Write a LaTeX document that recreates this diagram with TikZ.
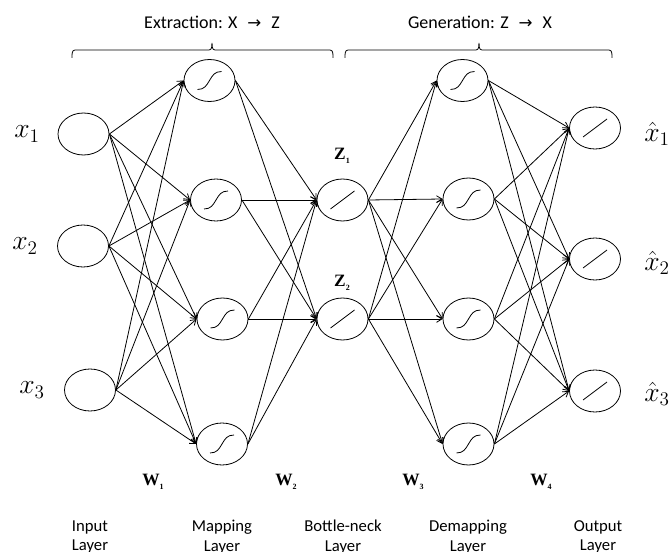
\documentclass[tikz,border=0pt]{standalone}
\usepackage{fontspec}
\setmainfont{Liberation Serif}
\newfontfamily\calib{Carlito}
\newfontfamily\dejavu{DejaVu Sans}
\usetikzlibrary{shapes.geometric,arrows.meta}
\newcommand{\myarrow}{\hspace{0.55em}{\dejavu\fontsize{12.5}{12.5}\selectfont →}\hspace{0.55em}}
\begin{document}
\begin{tikzpicture}[x=0.75pt,y=-0.75pt,
  neuron/.style={draw,ellipse,line width=0.6pt,minimum width=38.25pt,minimum height=31.5pt,inner sep=0pt},
  sig/.style={neuron,path picture={\draw[line width=0.6pt,shift={(path picture bounding box.center)}]
      (-12,9) .. controls (-5,9) and (-3,5) .. (0,0) .. controls (3,-5) and (5,-9) .. (12,-9);}},
  lin/.style={neuron,path picture={\draw[line width=0.6pt,shift={(path picture bounding box.center)}]
      (-12,9) -- (12,-9);}},
  conn/.style={line width=0.6pt,-{Straight Barb[length=4pt,width=5pt]}},
  vlab/.style={font=\fontsize{20}{20}\selectfont},
  wlab/.style={font=\fontsize{13}{13}\selectfont\bfseries},
  layerlab/.style={font=\calib\fontsize{12.5}{14.5}\selectfont,align=center},
  toplab/.style={font=\calib\fontsize{13.5}{15}\selectfont},
  bracepath/.style={line width=0.6pt}
]
\useasboundingbox (0,0) rectangle (672,552);
% input layer
\node[neuron] (I1) at (83.5,134) {};
\node[neuron] (I2) at (83,246) {};
\node[neuron] (I3) at (90,390) {};
% mapping layer
\node[sig] (M1) at (209.5,80.5) {};
\node[sig] (M2) at (216,200) {};
\node[sig] (M3) at (222.5,319) {};
\node[sig] (M4) at (222,444) {};
% bottleneck
\node[lin] (B1) at (342.5,200) {};
\node[lin] (B2) at (342.5,319) {};
% demapping
\node[sig] (D1) at (462.5,80.5) {};
\node[sig] (D2) at (468.5,199) {};
\node[sig] (D3) at (468.5,319) {};
\node[sig] (D4) at (468.5,444) {};
% output
\node[lin] (O1) at (595,128) {};
\node[lin] (O2) at (595,259) {};
\node[lin] (O3) at (595,391) {};
% connections
\foreach \i in {1,2,3}{\foreach \j in {1,2,3,4}{\draw[conn] (I\i.east) -- (M\j.west);}}
\foreach \i in {1,2,3,4}{\foreach \j in {1,2}{\draw[conn] (M\i.east) -- (B\j.west);}}
\foreach \i in {1,2}{\foreach \j in {1,2,3,4}{\draw[conn] (B\i.east) -- (D\j.west);}}
\foreach \i in {1,2,3,4}{\foreach \j in {1,2,3}{\draw[conn] (D\i.east) -- (O\j.west);}}
% variable labels
\node[vlab] (lx1) at (27,134) {$x_1$};
\node[vlab] (lx2) at (25,246) {$x_2$};
\node[vlab] (lx3) at (32,390) {$x_3$};
\node[vlab] (ly1) at (657,134) {$\hat{x}_1$};
\node[vlab] (ly2) at (657,263) {$\hat{x}_2$};
\node[vlab] (ly3) at (657,394) {$\hat{x}_3$};
\node[wlab] (lz1) at (342,156) {Z\raisebox{-0.5ex}{\fontsize{6}{6}\selectfont 1}};
\node[wlab] (lz2) at (342,283) {Z\raisebox{-0.5ex}{\fontsize{6}{6}\selectfont 2}};
\node[wlab] (lw1) at (153,482) {W\raisebox{-0.5ex}{\fontsize{6}{6}\selectfont 1}};
\node[wlab] (lw2) at (286,482) {W\raisebox{-0.5ex}{\fontsize{6}{6}\selectfont 2}};
\node[wlab] (lw3) at (413,482) {W\raisebox{-0.5ex}{\fontsize{6}{6}\selectfont 3}};
\node[wlab] (lw4) at (541,482) {W\raisebox{-0.5ex}{\fontsize{6}{6}\selectfont 4}};
% layer labels
\node[layerlab] (t1) at (90,537) {Input\\Layer};
\node[layerlab] (t2) at (222,537) {Mapping\\Layer};
\node[layerlab] (t3) at (343,537) {Bottle-neck\\Layer};
\node[layerlab] (t4) at (468,537) {Demapping\\Layer};
\node[layerlab] (t5) at (598,537) {Output\\Layer};
% top labels
\node[toplab] (e1) at (212,22) {Extraction: X\myarrow Z};
\node[toplab] (e2) at (480,22) {Generation: Z\myarrow X};
% braces
\draw[bracepath] (72,58) to[out=90,in=180] (75,50) -- (209,50) to[out=0,in=-90] (212,43) to[out=-90,in=180] (215,50) -- (330,50) to[out=0,in=90] (333,58);
\draw[bracepath] (345,58) to[out=90,in=180] (348,50) -- (476,50) to[out=0,in=-90] (479,43) to[out=-90,in=180] (482,50) -- (609,50) to[out=0,in=90] (612,58);
\end{tikzpicture}
\end{document}
